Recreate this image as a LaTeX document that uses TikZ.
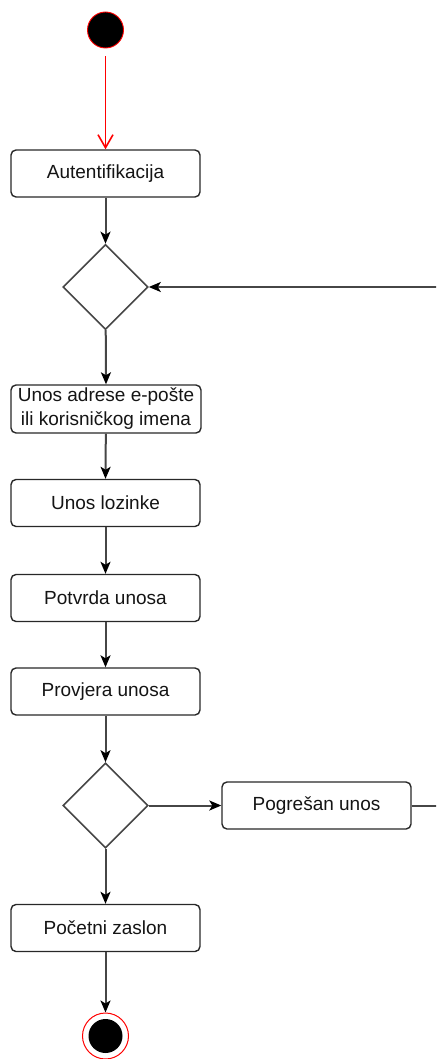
\documentclass[tikz,border=0pt]{standalone}
\usepackage{fontspec}
\setmainfont{Liberation Sans}
\usetikzlibrary{shapes.geometric,arrows.meta}
\definecolor{ln}{RGB}{70,70,70}
\definecolor{bx}{RGB}{40,40,40}
\definecolor{txt}{RGB}{20,20,20}
\definecolor{startred}{RGB}{255,0,0}
\tikzset{
  actbox/.style={draw=bx, line width=1.4pt, rounded corners=5pt, minimum width=189pt, minimum height=47pt, inner sep=0pt, font=\fontsize{19}{24}\selectfont, text=txt, align=center},
  decis/.style={draw=ln, line width=1.6pt, diamond, minimum width=85pt, minimum height=85pt, inner sep=0pt},
  flow/.style={draw=ln, line width=2pt, color=ln},
  flowtip/.style={-{Stealth[length=12pt,width=10pt,inset=3pt,fill=black,color=black]}},
  redflow/.style={color=startred, line width=1.6pt, -{Straight Barb[length=13pt,width=15pt]}}
}
\begin{document}
\begin{tikzpicture}[x=1pt,y=-1pt]
\useasboundingbox (0,0) rectangle (436,1059);
\clip (0,0) rectangle (436,1059);
\node[circle, fill=black, draw=startred, line width=0.9pt, minimum size=36pt, inner sep=0pt] (start) at (105.5,30) {};
\node[actbox] (aut) at (105.5,173.5) {Autentifikacija};
\node[decis] (d1) at (105.5,287) {};
\node[actbox, minimum width=190pt, minimum height=48pt] (unos) at (106,409) {Unos adrese e-pošte\\ili korisničkog imena};
\node[actbox] (loz) at (105.5,503) {Unos lozinke};
\node[actbox] (pot) at (105.5,598) {Potvrda unosa};
\node[actbox] (prov) at (105.5,691.5) {Provjera unosa};
\node[decis] (d2) at (105.5,805.5) {};
\node[actbox] (pog) at (316.5,805.5) {Pogrešan unos};
\node[actbox] (poc) at (105.5,928) {Početni zaslon};
\node[circle, draw=startred, line width=1pt, fill=white, minimum size=46pt, inner sep=0pt] (end) at (105.5,1036) {};
\node[circle, fill=black, minimum size=34pt, inner sep=0pt] at (end.center) {};

\draw[redflow] ([yshift=-8pt]start.south) -- (aut.north);
\draw[flow, flowtip] (aut) -- (d1.north);
\draw[flow, flowtip] (d1) -- (unos.north);
\draw[flow, flowtip] (unos) -- (loz.north);
\draw[flow, flowtip] (loz) -- (pot.north);
\draw[flow, flowtip] (pot) -- (prov.north);
\draw[flow, flowtip] (prov) -- (d2.north);
\draw[flow, flowtip] (d2.east) -- (pog.west);
\draw[flow, flowtip] (d2.south) -- (poc.north);
\draw[flow, flowtip] (poc) -- (end.north);
\draw[flow, flowtip] (pog.east) -- ++(40,0) |- (d1.east);
\end{tikzpicture}
\end{document}
